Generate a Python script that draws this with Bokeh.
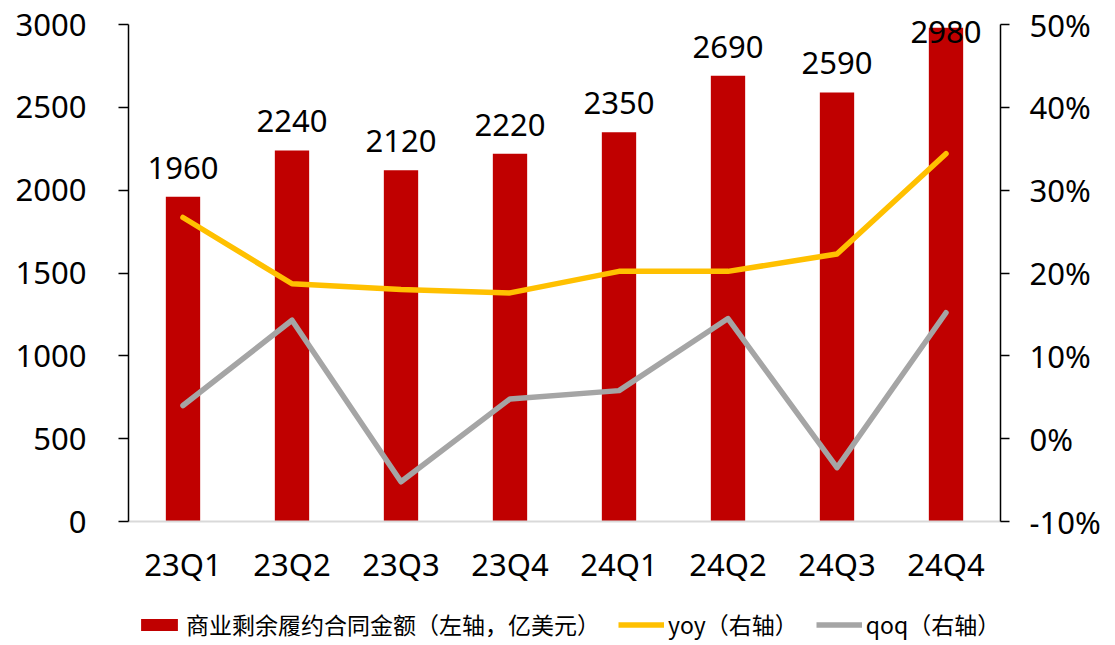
from bokeh.plotting import figure
from bokeh.layouts import column
from bokeh.models import (Range1d, LinearAxis, FactorRange, Legend, LegendItem,
                          NumeralTickFormatter, FixedTicker, ColumnDataSource)
from bokeh.core.properties import value
from bokeh.embed import file_html
from bokeh.resources import INLINE

quarters = ["23Q1", "23Q2", "23Q3", "23Q4", "24Q1", "24Q2", "24Q3", "24Q4"]
backlog = [1960, 2240, 2120, 2220, 2350, 2690, 2590, 2980]
yoy_pct = [26.7, 18.7, 18.0, 17.6, 20.2, 20.2, 22.3, 34.4]
qoq_pct = [4.0, 14.3, -5.2, 4.8, 5.8, 14.5, -3.5, 15.2]

legend_bar = "商业剩余履约合同金额（左轴，亿美元）"
legend_yoy = "yoy（右轴）"
legend_qoq = "qoq（右轴）"

FONT = "Noto Sans"
CJK = "Noto Sans CJK SC"
BAR_C = "#C00000"
YOY_C = "#FFC000"
QOQ_C = "#A5A5A5"

# axes span 0..3000 and -10%..50%; the frame is extended upward a little so
# the top value label is not clipped (the axis lines keep their bounds)
FRAME_H = 521
AXIS_H = 497
EXT = FRAME_H / AXIS_H

# labels are kept near the plot top (like the reference's top label)
label_y = [min(v, 2780) for v in backlog]

src = ColumnDataSource(dict(
    q=quarters, v=backlog, lab=[str(b) for b in backlog], ly=label_y,
    yoy=[x / 100 for x in yoy_pct], qoq=[x / 100 for x in qoq_pct],
))

p = figure(x_range=FactorRange(*quarters, range_padding=0),
           y_range=Range1d(0, 3000 * EXT),
           width=1115, height=600,
           output_backend="svg", toolbar_location=None,
           min_border_left=128, min_border_right=115, min_border_top=0,
           min_border_bottom=79)
p.extra_y_ranges = {"pct": Range1d(-0.1, -0.1 + 0.6 * EXT)}
p.outline_line_color = None
p.xgrid.visible = False
p.ygrid.visible = False

p.vbar(x="q", top="v", width=0.315, source=src, fill_color=BAR_C, line_color=None)
p.line(x="q", y="yoy", source=src, y_range_name="pct", line_color=YOY_C,
       line_width=5.5, line_cap="round", line_join="round")
p.line(x="q", y="qoq", source=src, y_range_name="pct", line_color=QOQ_C,
       line_width=5.5, line_cap="round", line_join="round")

p.text(x="q", y="ly", text="lab", source=src, text_align="center",
       text_baseline="bottom", y_offset=-18, text_font=value(FONT),
       text_font_size="31px", text_color="#000000")

# left axis
ya = p.yaxis[0]
ya.ticker = FixedTicker(ticks=[0, 500, 1000, 1500, 2000, 2500, 3000])
ya.bounds = (0, 3000)
ya.axis_line_color = "black"
ya.axis_line_width = 1.5
ya.major_tick_line_color = "black"
ya.major_tick_line_width = 1.5
ya.major_tick_out = 10
ya.major_tick_in = 0
ya.minor_tick_line_color = None
ya.major_label_standoff = 32
ya.major_label_text_font = FONT
ya.major_label_text_font_size = "31px"
ya.major_label_text_color = "black"

# right axis
ra = LinearAxis(y_range_name="pct",
                ticker=FixedTicker(ticks=[-0.1, 0, 0.1, 0.2, 0.3, 0.4, 0.5]),
                formatter=NumeralTickFormatter(format="0%"), bounds=(-0.1, 0.5))
ra.axis_line_color = "black"
ra.axis_line_width = 1.5
ra.major_tick_line_color = "black"
ra.major_tick_line_width = 1.5
ra.major_tick_out = 9
ra.major_tick_in = 0
ra.minor_tick_line_color = None
ra.major_label_standoff = 20
ra.major_label_text_font = FONT
ra.major_label_text_font_size = "31px"
ra.major_label_text_color = "black"
p.add_layout(ra, "right")

# x axis
xa = p.xaxis[0]
xa.axis_line_color = "#D9D9D9"
xa.axis_line_width = 2
xa.major_tick_line_color = None
xa.minor_tick_line_color = None
xa.major_label_standoff = 15
xa.major_label_text_font = FONT
xa.major_label_text_font_size = "31px"
xa.major_label_text_color = "black"

# legend strip below the chart (swatch renderers sit outside the visible range)
lg = figure(width=1115, height=45, output_backend="svg", toolbar_location=None,
            x_range=Range1d(0, 1), y_range=Range1d(0, 1),
            x_axis_type=None, y_axis_type=None, min_border=0)
lg.outline_line_color = None
lg.xgrid.visible = False
lg.ygrid.visible = False
swatch = ColumnDataSource(dict(x=[-5, -4], y=[-5, -4]))
r_bar = lg.rect(x="x", y="y", width=0.1, height=0.1, source=swatch,
                fill_color=BAR_C, line_color=None)
r_yoy = lg.line(x="x", y="y", source=swatch, line_color=YOY_C, line_width=5.5)
r_qoq = lg.line(x="x", y="y", source=swatch, line_color=QOQ_C, line_width=5.5)

legend = Legend(items=[
    LegendItem(label=legend_bar, renderers=[r_bar]),
    LegendItem(label=legend_yoy, renderers=[r_yoy]),
    LegendItem(label=legend_qoq, renderers=[r_qoq]),
], orientation="horizontal", location=(8, 4))
legend.label_text_font = CJK
legend.label_text_font_size = "23px"
legend.label_text_color = "black"
legend.label_height = 26
legend.glyph_width = 46
legend.glyph_height = 15
legend.label_standoff = 4
legend.spacing = 18
legend.padding = 2
legend.margin = 0
legend.border_line_color = None
legend.background_fill_alpha = 0
lg.add_layout(legend, "center")

open("out.html", "w").write(file_html(column(p, lg, spacing=0), INLINE))
